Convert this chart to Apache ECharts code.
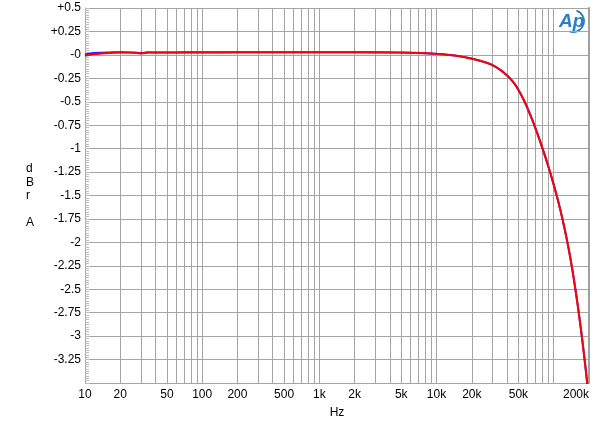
<!DOCTYPE html>
<html>
<head>
<meta charset="utf-8">
<script src="https://cdn.jsdelivr.net/npm/echarts@6/dist/echarts.min.js"></script>
<style>html,body{margin:0;padding:0;background:#fff}#c{width:600px;height:424px}</style>
</head>
<body>
<div id="c"></div>
<script>
// Frequencies (Hz)
var freqs = [10, 11, 12, 14, 16, 20, 25, 28, 30, 32, 35, 40, 50, 70, 100, 200, 500, 1000, 2000, 5000, 7000,
  10000, 12500, 16000, 20000, 25000, 30000, 35000, 40000, 45000, 50000, 55000, 60000, 65000, 70000, 75000, 80000, 90000,
  100000, 110000, 120000, 130000, 140000, 150000, 160000, 170000, 180000, 190000, 200000];
// Red channel (dBr A)
var redVals = [-0.01, 0.0, 0.008, 0.015, 0.02, 0.025, 0.024, 0.019, 0.015, 0.019, 0.025, 0.025, 0.025, 0.026, 0.026, 0.027, 0.027, 0.027, 0.027, 0.024, 0.02,
  0.01, 0.0, -0.017, -0.042, -0.073, -0.11, -0.16, -0.22, -0.289, -0.374, -0.471, -0.575, -0.681, -0.787, -0.891, -0.993, -1.191,
  -1.385, -1.577, -1.776, -1.981, -2.197, -2.426, -2.664, -2.91, -3.163, -3.42, -3.679];
// Blue channel (dBr A)
var blueVals = [0.005, 0.015, 0.02, 0.024, 0.026, 0.028, 0.026, 0.022, 0.019, 0.022, 0.027, 0.026, 0.026, 0.027, 0.027, 0.028, 0.028, 0.028, 0.028, 0.025, 0.021,
  0.011, 0.001, -0.016, -0.041, -0.072, -0.11, -0.16, -0.22, -0.289, -0.374, -0.471, -0.575, -0.681, -0.787, -0.891, -0.993, -1.191,
  -1.385, -1.577, -1.776, -1.981, -2.197, -2.426, -2.664, -2.91, -3.163, -3.42, -3.679];
// Tick labels
var xLabelFreqs = [10, 20, 50, 100, 200, 500, 1000, 2000, 5000, 10000, 20000, 50000, 200000];
var xGridFreqs = [];
[10, 100, 1000, 10000, 100000].forEach(function (d) {
  for (var m = 1; m <= 9; m++) { if (d * m <= 200000) xGridFreqs.push(d * m); }
});
var yMin = -3.5, yMax = 0.5, yStep = 0.25;

function lg(f) { return Math.log10(f); }
function fmtHz(v) {
  var f = Math.round(Math.pow(10, v));
  return f >= 1000 ? (f / 1000) + 'k' : String(f);
}
function mk(vals) { return freqs.map(function (f, i) { return [lg(f), vals[i]]; }); }

var chart = echarts.init(document.getElementById('c'), null, {renderer: 'canvas'});
var font = 'Liberation Sans, Arial, sans-serif';
var gridColor = '#a4a4a4';
var logoBlue = '#2a7fc4';
chart.setOption({
  animation: false,
  backgroundColor: '#ffffff',
  grid: {left: 85, right: 11, top: 8, bottom: 41, show: false},
  xAxis: [{
    type: 'value', min: lg(10), max: lg(200000),
    axisLine: {show: true, lineStyle: {color: gridColor, width: 1}},
    axisTick: {show: false, customValues: xGridFreqs.map(lg)},
    splitLine: {show: true, lineStyle: {color: gridColor, width: 1}},
    axisLabel: {
      customValues: xLabelFreqs.map(lg), formatter: fmtHz,
      color: '#000', fontFamily: font, fontSize: 12, margin: 6,
      alignMaxLabel: 'right'
    }
  }],
  yAxis: [{
    type: 'value', min: yMin, max: yMax, interval: yStep,
    axisLine: {show: true, lineStyle: {color: gridColor}},
    axisTick: {show: true, inside: true, length: 5, lineStyle: {color: '#bdbdbd'}},
    minorTick: {show: true, splitNumber: 10, length: 4, lineStyle: {color: '#bdbdbd'}},
    splitLine: {show: true, lineStyle: {color: gridColor, width: 1}},
    axisLabel: {
      color: '#000', fontFamily: font, fontSize: 12, margin: 4,
      formatter: function (v) {
        if (Math.abs(v - yMin) < 1e-9) return '';
        if (Math.abs(v) < 1e-9) return '-0';
        return v > 0 ? '+' + v : String(v);
      }
    }
  }, {
    type: 'value', min: yMin, max: yMax, position: 'right',
    axisLine: {show: true, lineStyle: {color: '#a0a0a0', width: 2}},
    axisTick: {show: false}, axisLabel: {show: false}, splitLine: {show: false}
  }],
  series: [{
    type: 'line', data: mk(blueVals), showSymbol: false, smooth: 0.5,
    lineStyle: {color: '#2020ff', width: 2}, z: 2
  }, {
    type: 'line', data: mk(redVals), showSymbol: false, smooth: 0.5,
    lineStyle: {color: '#ff0000', width: 2}, z: 3
  }],
  graphic: [
    {type: 'text', left: 26, top: 162, style: {text: 'd\nB\nr\n\nA', fill: '#000', font: '12px ' + font, lineHeight: 13.5, align: 'center'}},
    {type: 'text', x: 337, y: 413, style: {text: 'Hz', fill: '#000', font: '12px ' + font, align: 'center', verticalAlign: 'middle'}},
    {type: 'text', x: 559, y: 12, style: {text: 'Ap', fill: logoBlue, font: 'italic bold 19px ' + font}},
    {type: 'arc', shape: {cx: 573, cy: 21, r: 11, startAngle: -1.25, endAngle: 1.9}, style: {stroke: logoBlue, lineWidth: 1.8, fill: null}}
  ]
});
</script>
</body>
</html>
